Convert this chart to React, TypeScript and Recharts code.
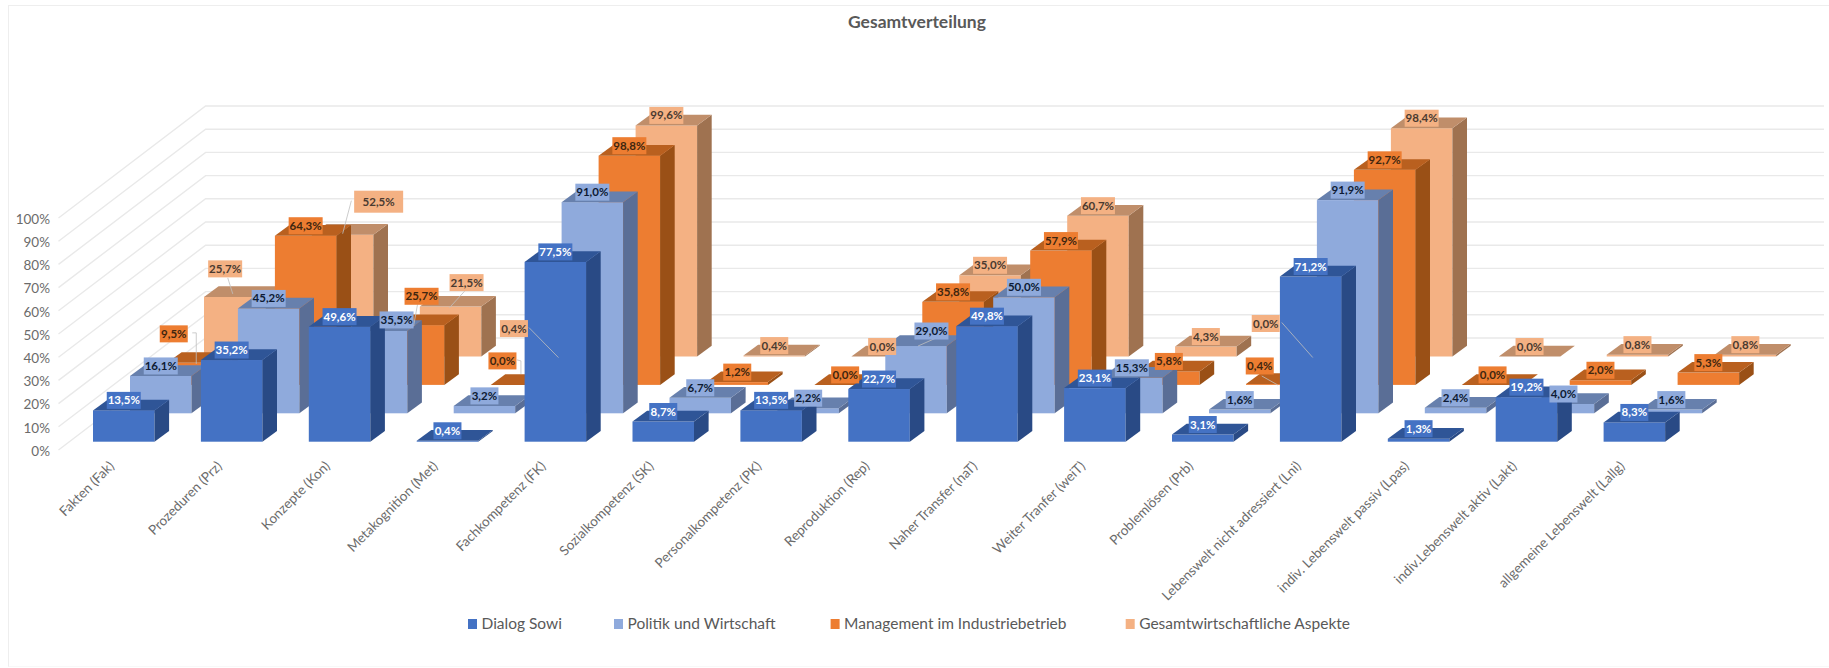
import { BarChart, Bar, XAxis, YAxis, CartesianGrid, LabelList } from "recharts";

const categories = [
  "Fakten (Fak)",
  "Prozeduren (Prz)",
  "Konzepte (Kon)",
  "Metakognition (Met)",
  "Fachkompetenz (FK)",
  "Sozialkompetenz (SK)",
  "Personalkompetenz (PK)",
  "Reproduktion (Rep)",
  "Naher Transfer (naT)",
  "Weiter Tranfer (weiT)",
  "Problemlösen (Prb)",
  "Lebenswelt nicht adressiert (Lni)",
  "indiv. Lebenswelt passiv (Lpas)",
  "indiv.Lebenswelt aktiv (Lakt)",
  "allgemeine Lebenswelt (Lallg)",
];
const dialogSowi = [13.5, 35.2, 49.6, 0.4, 77.5, 8.7, 13.5, 22.7, 49.8, 23.1, 3.1, 71.2, 1.3, 19.2, 8.3];
const politik = [16.1, 45.2, 35.5, 3.2, 91.0, 6.7, 2.2, 29.0, 50.0, 15.3, 1.6, 91.9, 2.4, 4.0, 1.6];
const management = [9.5, 64.3, 25.7, 0.0, 98.8, 1.2, 0.0, 35.8, 57.9, 5.8, 0.4, 92.7, 0.0, 2.0, 5.3];
const gesamt = [25.7, 52.5, 21.5, 0.4, 99.6, 0.4, 0.0, 35.0, 60.7, 4.3, 0.0, 98.4, 0.0, 0.8, 0.8];
const yTicks = [0, 10, 20, 30, 40, 50, 60, 70, 80, 90, 100];

const FONT = "Lato, Carlito, sans-serif";
const BAR_W = 61.5;
const STEP_X = 37;
const STEP_Y = 28.4;
const FRONT_Y = 8.3;
const SIDE_X = 14.6;
const SIDE_Y = 10.7;

const series = [
  { key: "s0", name: "Dialog Sowi", front: "#4472c4", top: "#2f5597", side: "#294a85", text: "#ffffff" },
  { key: "s1", name: "Politik und Wirtschaft", front: "#8faadc", top: "#6780ad", side: "#5a6e96", text: "#0d1a33" },
  { key: "s2", name: "Management im Industriebetrieb", front: "#ed7d31", top: "#b9601f", side: "#9a5016", text: "#40260f" },
  { key: "s3", name: "Gesamtwirtschaftliche Aspekte", front: "#f4b183", top: "#c08e6a", side: "#9f7250", text: "#4a3a30" },
];

const chartData = categories.map((name, i) => ({
  name,
  s0: dialogSowi[i],
  s1: politik[i],
  s2: management[i],
  s3: gesamt[i],
}));

// labels Excel moved away from the bar, offsets from the top of the front face
const moved: Record<string, { dx: number; dy: number; line?: number[][]; big?: boolean }> = {
  "2-0": { dx: -24, dy: -29, line: [[-5.5, -30], [-1.5, -30], [-1.5, 1]] },
  "3-0": { dx: -9.6, dy: -28, line: [[-7, -19], [-2, -3]] },
  "3-1": { dx: 36, dy: -33, line: [[8.7, -34], [0, -1]], big: true },
  "1-2": { dx: 20, dy: -11 },
  "2-2": { dx: 8, dy: -29, line: [[4, -21], [0, 1]] },
  "3-2": { dx: 16, dy: -24, line: [[14.6, -16], [-1, 1]] },
  "3-3": { dx: -44.5, dy: -27, line: [[-29.5, -28], [0, 2]] },
  "2-3": { dx: -19, dy: -24, line: [[-4.5, -25], [-0.5, -24], [-0.5, -11]] },
  "1-7": { dx: 15.4, dy: -15, line: [[2, 0], [20, -8]] },
  "2-10": { dx: -17, dy: -18, line: [[-15, -8], [1, 1]] },
  "3-10": { dx: -48, dy: -33, line: [[-32, -34], [-1, 1]] },
};

const offsetX = (s: number) => s * STEP_X;
const offsetY = (s: number) => -FRONT_Y - s * STEP_Y;

function Box3D(s: number) {
  const c = series[s];
  return (props: any) => {
    const { width } = props;
    const x = props.x + offsetX(s);
    const y = props.y + offsetY(s);
    const h = props.height;
    const topPts = `${x},${y} ${x + SIDE_X},${y - SIDE_Y} ${x + width + SIDE_X},${y - SIDE_Y} ${x + width},${y}`;
    const sidePts = `${x + width},${y} ${x + width + SIDE_X},${y - SIDE_Y} ${x + width + SIDE_X},${y + h - SIDE_Y} ${x + width},${y + h}`;
    return (
      <g>
        <rect x={x} y={y} width={width} height={h} fill={c.front} />
        <polygon points={sidePts} fill={c.side} />
        <polygon points={topPts} fill={c.top} />
      </g>
    );
  };
}

function ValueLabel(s: number) {
  const c = series[s];
  return (props: any) => {
    const { x, y, width, value, index } = props;
    const cx = x + width / 2 + offsetX(s);
    const top = y + offsetY(s);
    const m = moved[`${s}-${index}`];
    const lx = cx + (m ? m.dx : 0);
    const ly = top + (m ? m.dy : -10);
    const txt = Number(value).toFixed(1).replace(".", ",") + "%";
    const w = m && m.big ? 49 : txt.length > 4 ? 34 : 28;
    const h = m && m.big ? 22 : 17;
    return (
      <g>
        {m && m.line && (
          <polyline
            points={m.line.map((p) => `${cx + p[0]},${top + p[1]}`).join(" ")}
            fill='none'
            stroke='#bfbfbf'
            strokeWidth={0.8}
          />
        )}
        <rect x={lx - w / 2} y={ly - h / 2} width={w} height={h} fill={c.front} />
        <text
          x={lx}
          y={ly + 4}
          textAnchor='middle'
          fontFamily={FONT}
          fontSize={11.5}
          fontWeight={700}
          fill={c.text}
        >
          {txt}
        </text>
      </g>
    );
  };
}

function GridLine(props: any) {
  const { y1, key } = props;
  return (
    <polyline
      key={key ?? y1}
      points={`58.5,${y1} 205.6,${y1 - 112} 1824,${y1 - 112}`}
      fill='none'
      stroke='#e9e9e9'
      strokeWidth={1.4}
    />
  );
}

function CategoryTick(props: any) {
  const { x, payload } = props;
  const ax = x - 9;
  const ay = 467;
  return (
    <text
      x={ax}
      y={ay}
      transform={`rotate(-45 ${ax} ${ay})`}
      textAnchor='end'
      fontFamily={FONT}
      fontSize={13.5}
      fill='#6b6b6b'
    >
      {payload.value}
    </text>
  );
}

function ChartLegend() {
  const xs = [468, 614, 830.6, 1125.7];
  return (
    <g>
      {series.map((c, i) => (
        <g key={c.key}>
          <rect x={xs[i]} y={619} width={9} height={10} fill={c.front} />
          <text x={xs[i] + 13.5} y={629} fontFamily={FONT} fontSize={15.5} fill='#595959'>
            {c.name}
          </text>
        </g>
      ))}
    </g>
  );
}

export default function App() {
  const back = [3, 2, 1, 0];
  return (
    <div style={{ position: "absolute", left: 0, top: 0, width: 1829, height: 668, background: "#fff" }}>
      <div
        style={{
          position: "absolute",
          left: 8,
          top: 5,
          width: 1821,
          height: 660,
          borderLeft: "1px solid #eeeeee",
          borderTop: "1px solid #eeeeee",
          borderBottom: "1px solid #f8f8f8",
        }}
      />
      <BarChart
        width={1829}
        height={668}
        data={chartData}
        margin={{ top: 218, right: 140.5, bottom: 188, left: 0 }}
        barSize={BAR_W}
        barGap={-BAR_W}
      >
        <CartesianGrid vertical={false} horizontal={GridLine} />
        <XAxis dataKey='name' interval={0} height={30} axisLine={false} tickLine={false} tick={CategoryTick} />
        <YAxis
          width={70}
          domain={[0, 100]}
          ticks={yTicks}
          axisLine={false}
          tickLine={false}
          tickSize={0}
          tickMargin={20}
          tickFormatter={(v) => `${v}%`}
          tick={{ fill: "#6b6b6b", fontSize: 13.5, fontFamily: FONT, dy: 1 }}
        />
        {back.map((s) => (
          <Bar key={series[s].key} dataKey={series[s].key} isAnimationActive={false} shape={Box3D(s)} />
        ))}
        {back.map((s) => (
          <Bar
            key={series[s].key + "-labels"}
            dataKey={series[s].key}
            isAnimationActive={false}
            shape={() => null}
          >
            <LabelList dataKey={series[s].key} content={ValueLabel(s)} />
          </Bar>
        ))}
        <text x={917} y={28} textAnchor='middle' fontFamily={FONT} fontSize={17.5} fontWeight={700} fill='#595959'>
          Gesamtverteilung
        </text>
        <ChartLegend />
      </BarChart>
    </div>
  );
}
